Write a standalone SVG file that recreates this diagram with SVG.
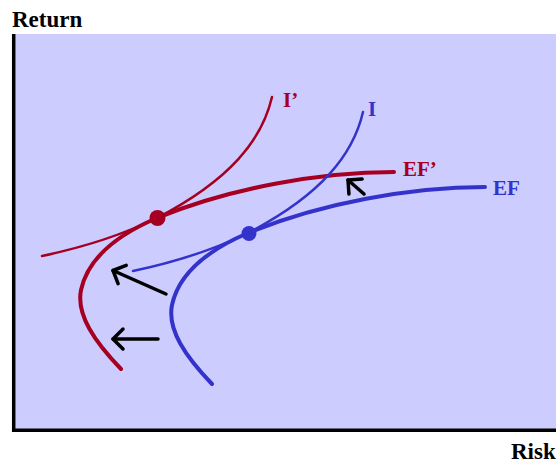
<svg xmlns="http://www.w3.org/2000/svg" width="559" height="463" viewBox="0 0 559 463">
<style>
.ax{font-family:"Liberation Serif","Times New Roman",serif;font-weight:bold;font-size:23px;fill:#000}
.lb{font-family:"Liberation Serif","Times New Roman",serif;font-weight:bold;font-size:21px}
.red{stroke:#A50021;fill:none;stroke-linecap:round}
.blue{stroke:#3333CC;fill:none;stroke-linecap:round}
.ef{stroke-width:4}
.ic{stroke-width:2.5}
.arr{stroke:#000;stroke-width:3.5;fill:none;stroke-linecap:round;marker-end:url(#chev)}
</style>
<defs>
<marker id="chev" markerUnits="userSpaceOnUse" viewBox="-15 -15 30 30" markerWidth="30" markerHeight="30" refX="0" refY="0" orient="auto" overflow="visible">
<path d="M-10,-10 L0,0 L-10,10" stroke="#000" stroke-width="3.5" fill="none" stroke-linecap="round" stroke-linejoin="round"/>
</marker>
</defs>
<rect x="14" y="34" width="542" height="396" fill="#CCCCFF"/>
<g id="axes" stroke="#000" stroke-width="3.5">
<line x1="13.7" y1="34" x2="13.7" y2="432"/>
<line x1="12" y1="430.3" x2="556" y2="430.3"/>
</g>
<text class="ax" x="12" y="27">Return</text>
<text class="ax" x="511" y="459">Risk</text>
<g id="ef-prime">
<path class="red ef" d="M121,369 C95,342 76,315 81,290 C87,262 110,238 157,218 C230,188 320,172 394,172"/>
<text class="lb" x="403" y="176" fill="#A50021">EF’</text>
</g>
<g id="i-prime">
<path class="red ic" d="M42,256 C80,248 120,236 157,218 C230,180 262,140 272,97"/>
<text class="lb" x="283" y="107" fill="#A50021">I’</text>
</g>
<g id="ef">
<path class="blue ef" transform="translate(91,15)" d="M121,369 C95,342 76,315 81,290 C87,262 110,238 157,218 C230,188 320,172 394,172"/>
<text class="lb" x="493" y="195" fill="#3333CC">EF</text>
</g>
<g id="i">
<path class="blue ic" transform="translate(91,15)" d="M42,256 C80,248 120,236 157,218 C230,180 262,140 272,97"/>
<text class="lb" x="368" y="116" fill="#3333CC">I</text>
</g>
<g id="tangent-red"><circle cx="157.5" cy="218" r="8" fill="#A50021"/></g>
<g id="tangent-blue"><circle cx="249" cy="233.5" r="7.5" fill="#3333CC"/></g>
<g id="connectors">
<line class="arr" x1="166" y1="294" x2="113" y2="270.5"/>
<line class="arr" x1="158" y1="339" x2="113" y2="339"/>
<line class="arr" x1="364" y1="194" x2="348" y2="180"/>
</g>
</svg>
